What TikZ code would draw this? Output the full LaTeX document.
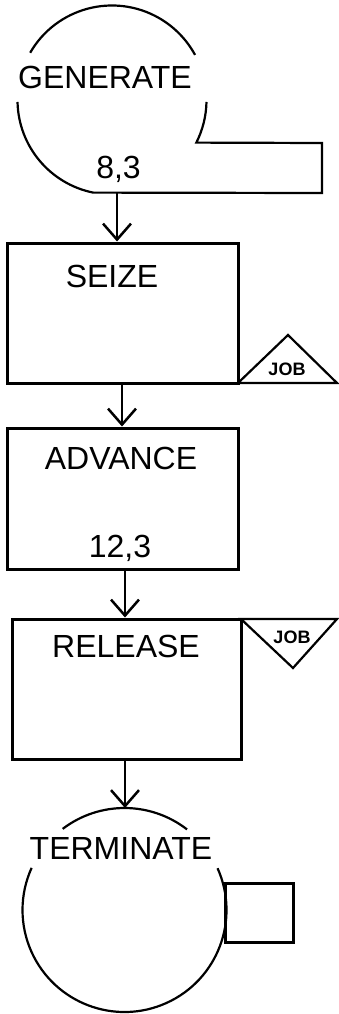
\documentclass[tikz,border=0pt]{standalone}
\usepackage{fontspec}
\setmainfont{Liberation Sans}
\usetikzlibrary{arrows.meta,calc}
\begin{document}
\begin{tikzpicture}[x=1pt,y=-1pt,
  big/.style={font=\fontsize{32}{32}\selectfont, inner sep=0pt, anchor=base},
  tag/.style={font=\bfseries\fontsize{18}{18}\selectfont, inner sep=0pt, anchor=base},
  blockbox/.style={draw, line width=3pt, inner sep=0pt},
  ring/.style={line width=2.2pt},
  flow/.style={line width=2.5pt, -{Straight Barb[length=16pt,width=28pt]}},
  flag/.style={line width=2.2pt, line join=miter}]

\useasboundingbox (0,0) rectangle (339,1014);

% GENERATE block
\coordinate (gc) at (112,100);
\draw[ring] ($(gc)+(-150:94.5)$) arc[start angle=-150,end angle=-28.5,radius=94.5];
\draw[ring] ($(gc)+(178.8:94.5)$) arc[start angle=178.8,end angle=101.5,radius=94.5]
   -- (322,193) -- (322,143) -- ($(gc)+(26.8:94.5)$)
   arc[start angle=26.8,end angle=1.2,radius=94.5];
\node[big] (gen) at (105,88.5) {GENERATE};
\node[big] (gnum) at (118.5,178) {8,3};
\coordinate (gout) at (117,193);

% SEIZE block
\node[blockbox, minimum width=231pt, minimum height=140pt] (seize) at (122.5,313) {};
\node[big] (seizet) at (112,287) {SEIZE};
\draw[flag] (238,383) -- (288,335) -- (337,383) -- cycle;
\node[tag] (job1) at (287,375) {JOB};

% ADVANCE block
\node[blockbox, minimum width=231pt, minimum height=141pt] (advance) at (122.5,498.5) {};
\node[big] (advt) at (121,469) {ADVANCE};
\node[big] (anum) at (120,557) {12,3};

% RELEASE block
\node[blockbox, minimum width=229pt, minimum height=140pt] (release) at (126.5,689) {};
\node[big] (relt) at (126,657) {RELEASE};
\draw[flag] (241,619) -- (337,619) -- (293,668) -- cycle;
\node[tag] (job2) at (292,643) {JOB};

% TERMINATE block
\coordinate (tc) at (124.5,910);
\draw[ring] ($(tc)+(-127.3:102)$) arc[start angle=-127.3,end angle=-52.2,radius=102];
\draw[ring] ($(tc)+(-24.2:102)$) arc[start angle=-24.2,end angle=204.4,radius=102];
\draw[line width=3pt] (225,883) rectangle (293,942);
\node[big] (term) at (121,859) {TERMINATE};
\coordinate (ttop) at ($(tc)+(-90:102)$);

% connectors
\draw[flow] (gout) -- (gout |- seize.north);
\coordinate (s2) at ($(seize.south)+(-0.5,0)$);
\draw[flow] (s2) -- (s2 |- advance.north);
\coordinate (a3) at ($(advance.south)+(2.5,0)$);
\draw[flow] (a3) -- (a3 |- release.north);
\coordinate (r4) at ($(release.south)+(-1.5,0)$);
\draw[flow] (r4) -- (r4 |- ttop);
\end{tikzpicture}
\end{document}
